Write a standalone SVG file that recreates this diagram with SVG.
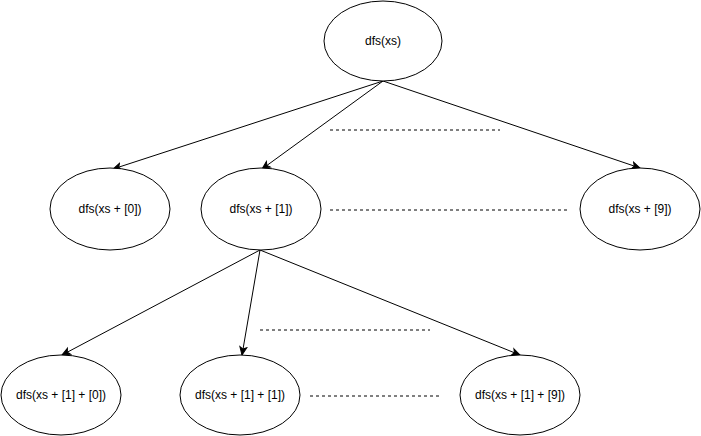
<svg xmlns="http://www.w3.org/2000/svg" width="701" height="436" viewBox="0 0 701 436">
<defs>
<marker id="arr" markerWidth="10" markerHeight="10" refX="9" refY="5" orient="auto" markerUnits="userSpaceOnUse">
<path d="M1,1.5 L9,5 L1,8.5 L3,5 Z" fill="#000" stroke="#000" stroke-width="1"/>
</marker>
</defs>
<style>
.n ellipse{fill:#fff;stroke:#000;stroke-width:1}
.n text{font-family:"Liberation Sans",Arial,sans-serif;font-size:12px;fill:#000;text-anchor:middle;dominant-baseline:central}
.e line{stroke:#000;stroke-width:1}
.e line.a{marker-end:url(#arr)}
.e line.d{stroke-dasharray:3 3}
</style>
<rect width="701" height="436" fill="#fff"/>
<g class="e" id="connectors">
<line class="a" x1="383" y1="81" x2="113" y2="169"/>
<line class="a" x1="383" y1="81" x2="262" y2="169"/>
<line class="a" x1="383" y1="81" x2="640" y2="168"/>
<line class="a" x1="260" y1="250" x2="62" y2="355"/>
<line class="a" x1="260" y1="250" x2="242" y2="355"/>
<line class="a" x1="260" y1="250" x2="520" y2="355"/>
<line class="d" x1="330" y1="130" x2="500" y2="130"/>
<line class="d" x1="330" y1="210" x2="570" y2="210"/>
<line class="d" x1="260" y1="330" x2="430" y2="330"/>
<line class="d" x1="310" y1="396" x2="440" y2="396"/>
</g>
<g class="n" id="root"><ellipse cx="383" cy="41" rx="59" ry="40"/><text x="383" y="41">dfs(xs)</text></g>
<g class="n" id="n0"><ellipse cx="110" cy="209" rx="60" ry="41"/><text x="110" y="209">dfs(xs + [0])</text></g>
<g class="n" id="n1"><ellipse cx="261" cy="209" rx="60" ry="41"/><text x="261" y="209">dfs(xs + [1])</text></g>
<g class="n" id="n9"><ellipse cx="640" cy="209" rx="60" ry="41"/><text x="640" y="209">dfs(xs + [9])</text></g>
<g class="n" id="n10"><ellipse cx="61" cy="395" rx="60" ry="40"/><text x="61" y="395">dfs(xs + [1] + [0])</text></g>
<g class="n" id="n11"><ellipse cx="240" cy="395" rx="60" ry="40"/><text x="240" y="395">dfs(xs + [1] + [1])</text></g>
<g class="n" id="n19"><ellipse cx="520" cy="395" rx="60" ry="40"/><text x="520" y="395">dfs(xs + [1] + [9])</text></g>
</svg>
